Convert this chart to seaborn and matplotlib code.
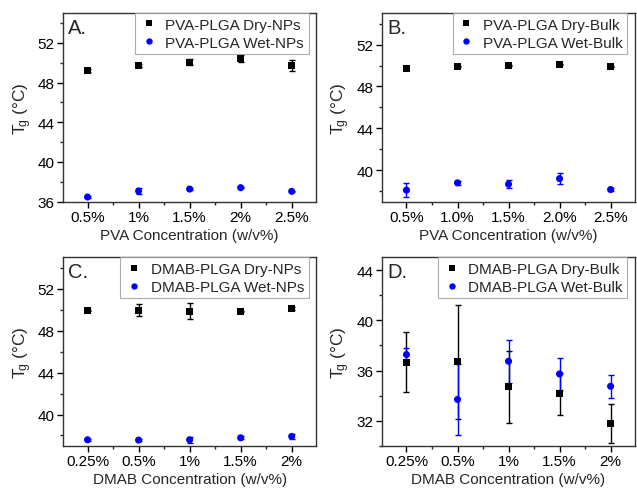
import numpy as np
import pandas as pd
import seaborn as sns
import matplotlib
matplotlib.use("Agg")
import matplotlib.pyplot as plt
from matplotlib.ticker import MultipleLocator, AutoMinorLocator

# ---- data ----
pva_labels_a = ["0.5%", "1%", "1.5%", "2%", "2.5%"]
pva_labels_b = ["0.5%", "1.0%", "1.5%", "2.0%", "2.5%"]
dmab_labels = ["0.25%", "0.5%", "1%", "1.5%", "2%"]

# A. PVA-PLGA NPs
a_dry = [49.22, 49.72, 50.05, 50.39, 49.72]
a_dry_err = [0.12, 0.12, 0.3, 0.35, 0.55]
a_wet = [36.47, 37.07, 37.27, 37.41, 37.04]
a_wet_err = [0.15, 0.3, 0.1, 0.08, 0.08]

# B. PVA-PLGA Bulk
b_dry = [49.75, 49.9, 50.0, 50.1, 49.9]
b_dry_err = [0.08, 0.08, 0.08, 0.08, 0.08]
b_wet = [38.1, 38.8, 38.67, 39.2, 38.16]
b_wet_err = [0.7, 0.2, 0.4, 0.55, 0.1]

# C. DMAB-PLGA NPs
c_dry = [49.94, 49.97, 49.88, 49.85, 50.13]
c_dry_err = [0.08, 0.55, 0.75, 0.08, 0.1]
c_wet = [37.59, 37.56, 37.59, 37.78, 37.91]
c_wet_err = [0.08, 0.08, 0.3, 0.15, 0.2]

# D. DMAB-PLGA Bulk
d_dry = [36.66, 36.7, 34.7, 34.17, 31.76]
d_dry_err = [2.37, 4.55, 2.85, 1.67, 1.55]
d_wet = [37.27, 33.7, 36.74, 35.73, 34.75]
d_wet_err = [0.55, 2.85, 1.72, 1.3, 0.93]

panels = [
    ("A.", pva_labels_a, a_dry, a_dry_err, a_wet, a_wet_err,
     "PVA-PLGA Dry-NPs", "PVA-PLGA Wet-NPs", "PVA Concentration (w/v%)",
     (36, 55), [36, 40, 44, 48, 52]),
    ("B.", pva_labels_b, b_dry, b_dry_err, b_wet, b_wet_err,
     "PVA-PLGA Dry-Bulk", "PVA-PLGA Wet-Bulk", "PVA Concentration (w/v%)",
     (37, 55), [40, 44, 48, 52]),
    ("C.", dmab_labels, c_dry, c_dry_err, c_wet, c_wet_err,
     "DMAB-PLGA Dry-NPs", "DMAB-PLGA Wet-NPs", "DMAB Concentration (w/v%)",
     (37, 55), [40, 44, 48, 52]),
    ("D.", dmab_labels, d_dry, d_dry_err, d_wet, d_wet_err,
     "DMAB-PLGA Dry-Bulk", "DMAB-PLGA Wet-Bulk", "DMAB Concentration (w/v%)",
     (30, 45), [32, 36, 40, 44]),
]

sns.set_theme(style="ticks")
plt.rcParams["font.family"] = ["Liberation Sans", "DejaVu Sans"]
plt.rcParams["mathtext.fontset"] = "custom"
plt.rcParams["mathtext.rm"] = "Liberation Sans"
plt.rcParams["mathtext.it"] = "Liberation Sans"

fig, axes = plt.subplots(2, 2, figsize=(6.37, 4.89), dpi=100)
fig.subplots_adjust(left=0.099, right=0.997, top=0.971, bottom=0.086,
                    wspace=0.26, hspace=0.296)

for ax, (letter, labels, dry, dry_err, wet, wet_err, dry_name, wet_name,
         xlabel, ylim, yticks) in zip(axes.flat, panels):
    pos = np.arange(len(labels))
    df = pd.DataFrame({
        "x": np.concatenate([pos, pos]),
        "Tg": dry + wet,
        "sample": [dry_name] * len(dry) + [wet_name] * len(wet),
    })

    # error bars first, then markers
    ax.errorbar(pos, dry, yerr=dry_err, fmt="none", ecolor="black",
                elinewidth=1.0, capsize=2.5, capthick=1.0, zorder=2)
    ax.errorbar(pos, wet, yerr=wet_err, fmt="none", ecolor="blue",
                elinewidth=1.0, capsize=2.5, capthick=1.0, zorder=2)
    sns.scatterplot(data=df, x="x", y="Tg", hue="sample", style="sample",
                    palette={dry_name: "black", wet_name: "blue"},
                    markers={dry_name: "s", wet_name: "o"},
                    s=26, linewidth=0, ax=ax, zorder=3)

    ax.set_xlim(-0.48, len(labels) - 0.52)
    ax.set_ylim(*ylim)
    ax.set_xticks(pos)
    ax.set_xticklabels(labels)
    ax.set_yticks(yticks)
    ax.xaxis.set_minor_locator(AutoMinorLocator(2))
    ax.yaxis.set_minor_locator(MultipleLocator(2))
    ax.tick_params(which="major", direction="out", length=4, width=1,
                   labelsize=11, colors="black", pad=2)
    ax.tick_params(which="minor", direction="out", length=2.5, width=1)
    ax.tick_params(top=False, right=False, which="both")
    for sp in ax.spines.values():
        sp.set_visible(True)
        sp.set_linewidth(1.0)
        sp.set_color("#333333")

    ax.set_xlabel(xlabel, fontsize=11, labelpad=3)
    ax.set_ylabel(r"$\mathregular{T\!_g}$ (°C)", fontsize=12.5, labelpad=3)

    ax.text(0.02, 0.975, letter, transform=ax.transAxes, fontsize=14.5,
            ha="left", va="top")

    leg = ax.legend(loc="upper right", bbox_to_anchor=(0.97, 1.0),
                    borderaxespad=0.0, fontsize=11, frameon=True,
                    fancybox=False, handletextpad=0.5, borderpad=0.3,
                    labelspacing=0.25, handlelength=1.2, markerscale=0.9)
    leg.get_frame().set_edgecolor("#999999")
    leg.get_frame().set_linewidth(0.8)

fig.savefig("out.png", dpi=100)
